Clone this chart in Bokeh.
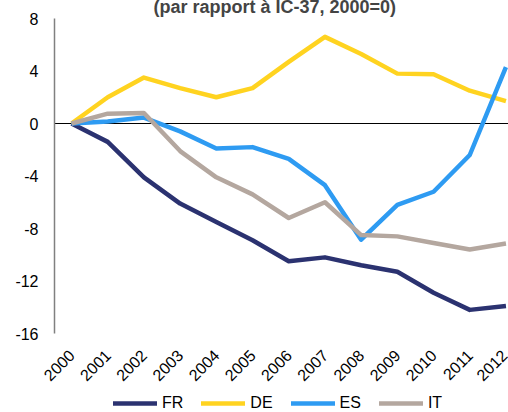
from bokeh.plotting import figure
from bokeh.layouts import column
from bokeh.models import FixedTicker, Span, Legend, LegendItem, Range1d
from bokeh.embed import file_html
from bokeh.resources import INLINE
import math

years = list(range(2000, 2013))
fr = [0, -1.4, -4.1, -6.1, -7.5, -8.9, -10.5, -10.2, -10.8, -11.3, -12.9, -14.2, -13.9]
de = [0, 2.0, 3.5, 2.7, 2.0, 2.7, 4.7, 6.6, 5.3, 3.8, 3.75, 2.5, 1.7]
es = [0, 0.15, 0.45, -0.6, -1.9, -1.8, -2.7, -4.7, -8.85, -6.2, -5.2, -2.4, 4.3]
it = [0, 0.75, 0.8, -2.1, -4.1, -5.4, -7.2, -6.0, -8.5, -8.6, -9.1, -9.6, -9.15]
series_names = ["FR", "DE", "ES", "IT"]
series_colors = ["#2b3270", "#ffd320", "#2e9bf2", "#b4a79f"]
y_ticks = [-16, -12, -8, -4, 0, 4, 8]
title_text = "(par rapport à IC-37, 2000=0)"

FONT = "Liberation Sans"
series = [fr, de, es, it]

# main chart
p = figure(width=508, height=400, output_backend="svg", toolbar_location=None,
           x_range=Range1d(1999.53, 2012.07), y_range=Range1d(-16, 8),
           min_border_left=54, min_border_right=0, min_border_top=0, min_border_bottom=59)
p.outline_line_color = None
p.xgrid.grid_line_color = None
p.ygrid.grid_line_color = None
p.background_fill_color = "white"
p.border_fill_color = "white"

p.title.text = title_text
p.title.text_font = FONT
p.title.text_font_size = "18px"
p.title.text_font_style = "bold"
p.title.align = "left"
p.title.offset = 99
p.title.standoff = 4

zero = Span(location=0, dimension="width", line_color="black", line_width=1, level="underlay")
p.add_layout(zero)

for vals, name, col in zip(series, series_names, series_colors):
    p.line(years, vals, line_color=col, line_width=4.5, line_join="round")

xa = p.xaxis[0]
xa.ticker = FixedTicker(ticks=years)
xa.major_label_overrides = {y: str(y) for y in years}
xa.major_label_orientation = math.pi / 4
xa.axis_line_color = None
xa.major_tick_line_color = None
xa.minor_tick_line_color = None
xa.major_label_text_font = FONT
xa.major_label_text_font_size = "16px"
xa.major_label_text_color = "black"
xa.major_label_standoff = 13

ya = p.yaxis[0]
ya.ticker = FixedTicker(ticks=y_ticks)
ya.major_label_overrides = {v: str(v) for v in y_ticks}
ya.axis_line_color = "#808080"
ya.axis_line_width = 1.5
ya.major_tick_line_color = None
ya.minor_tick_line_color = None
ya.major_tick_out = 0
ya.major_label_text_font = FONT
ya.major_label_text_font_size = "16px"
ya.major_label_text_color = "black"
ya.major_label_standoff = 16

# legend strip
lg = figure(width=508, height=20, output_backend="svg", toolbar_location=None,
            x_range=Range1d(0, 1), y_range=Range1d(0, 1),
            x_axis_location=None, y_axis_location=None,
            min_border_left=0, min_border_right=0, min_border_top=0, min_border_bottom=0)
lg.outline_line_color = None
lg.xgrid.grid_line_color = None
lg.ygrid.grid_line_color = None
lg.background_fill_color = "white"
lg.border_fill_color = "white"

items = []
for vals, name, col in zip(series, series_names, series_colors):
    r = lg.line(years, vals, line_color=col, line_width=4.5, line_cap="round")
    items.append(LegendItem(label=name, renderers=[r]))

legend = Legend(items=items, orientation="horizontal", location=(59, 0))
legend.label_text_font = FONT
legend.label_text_font_size = "16px"
legend.label_text_color = "black"
legend.glyph_width = 44
legend.glyph_height = 18
legend.spacing = 18
legend.label_standoff = 5
legend.padding = 0
legend.margin = 0
legend.border_line_color = None
legend.background_fill_alpha = 0
lg.add_layout(legend)

layout = column(p, lg, spacing=0, styles={"margin-top": "-8px"})

open("out.html", "w").write(file_html(layout, INLINE))
